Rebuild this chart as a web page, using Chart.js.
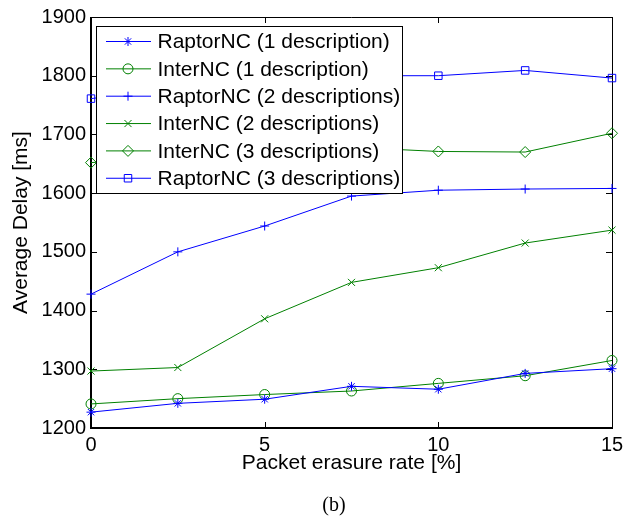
<!DOCTYPE html>
<html>
<head>
<meta charset="utf-8">
<script src="https://cdn.jsdelivr.net/npm/chart.js@4.4.1/dist/chart.umd.min.js"></script>
<style>
  body { margin: 0; background: #fff; }
  #wrap { width: 639px; height: 519px; }
</style>
</head>
<body>
<div id="wrap"><canvas id="myChart" width="639" height="519"></canvas></div>
<script>
// Datos (b)
const erasureRates = [0, 2.5, 5, 7.5, 10, 12.5, 15];
const raptor1 = [1227, 1242, 1249, 1271, 1266, 1293, 1301];
const inter1 = [1241, 1250, 1257, 1263, 1276, 1289, 1315];
const raptor2 = [1428, 1500, 1544, 1595, 1605, 1607, 1608];
const inter2 = [1297, 1303, 1386, 1448, 1473, 1515, 1537];
const inter3 = [1652, 1662, 1670, 1678, 1671, 1670, 1702];
const raptor3 = [1761, 1780, 1792, 1800, 1800, 1809, 1796];

const seriesNames = [
    'RaptorNC (1 description)',
    'InterNC (1 description)',
    'RaptorNC (2 descriptions)',
    'InterNC (2 descriptions)',
    'InterNC (3 descriptions)',
    'RaptorNC (3 descriptions)'
];
const xTicks = [0, 5, 10, 15];
const yTicks = [1200, 1300, 1400, 1500, 1600, 1700, 1800, 1900];

const BLUE = '#0000ff';
const GREEN = '#008000';
const FONT = '"Liberation Sans", Arial, Helvetica, sans-serif';

function points(values) {
    return erasureRates.map((x, i) => ({ x: x, y: values[i] }));
}

function makeSet(label, values, color, style, radius) {
    return {
        label: label,
        data: points(values),
        borderColor: color,
        borderWidth: 1,
        pointStyle: style,
        pointRadius: radius,
        pointBorderWidth: 1,
        pointBorderColor: color,
        pointBackgroundColor: 'rgba(0,0,0,0)',
        tension: 0,
        clip: false
    };
}

// Caja de ejes con marcas hacia dentro (estilo MATLAB)
const axisBox = {
    id: 'axisBox',
    beforeDatasetsDraw(chart) {
        const { ctx, chartArea: a, scales } = chart;
        ctx.save();
        ctx.strokeStyle = '#000';
        ctx.lineWidth = 1;
        ctx.beginPath();
        xTicks.forEach(v => {
            const px = Math.round(scales.x.getPixelForValue(v)) + 0.5;
            ctx.moveTo(px, a.bottom); ctx.lineTo(px, a.bottom - 6);
            ctx.moveTo(px, a.top); ctx.lineTo(px, a.top + 6);
        });
        yTicks.forEach(v => {
            const py = Math.round(scales.y.getPixelForValue(v)) + 0.5;
            ctx.moveTo(a.left, py); ctx.lineTo(a.left + 6, py);
            ctx.moveTo(a.right, py); ctx.lineTo(a.right - 6, py);
        });
        ctx.stroke();
        // borde superior y derecho
        ctx.beginPath();
        ctx.moveTo(a.left, a.top + 0.5); ctx.lineTo(a.right + 0.5, a.top + 0.5);
        ctx.lineTo(a.right + 0.5, a.bottom);
        ctx.stroke();
        // borde izquierdo e inferior un poco más gruesos
        ctx.lineWidth = 2;
        ctx.beginPath();
        ctx.moveTo(a.left, a.top);
        ctx.lineTo(a.left, a.bottom);
        ctx.lineTo(a.right + 1, a.bottom);
        ctx.stroke();
        ctx.restore();
    }
};

// Leyenda dentro del área del gráfico, arriba a la izquierda
const insideLegend = {
    id: 'insideLegend',
    afterDraw(chart) {
        const ctx = chart.ctx;
        ctx.save();
        ctx.fillStyle = '#fff';
        ctx.fillRect(96.5, 26.5, 306, 167);
        ctx.strokeStyle = '#000';
        ctx.lineWidth = 1;
        ctx.strokeRect(96.5, 26.5, 306, 167);
        chart.data.datasets.forEach((ds, i) => {
            const y = 41.5 + i * 27.35;
            ctx.strokeStyle = ds.borderColor;
            ctx.lineWidth = 1;
            ctx.beginPath();
            ctx.moveTo(106, y);
            ctx.lineTo(151, y);
            ctx.stroke();
            ctx.fillStyle = 'rgba(0,0,0,0)';
            Chart.helpers.drawPoint(ctx, {
                pointStyle: ds.pointStyle,
                radius: ds.pointRadius,
                borderWidth: 1,
                rotation: 0
            }, 128, y);
            ctx.fillStyle = '#000';
            ctx.font = '21px ' + FONT;
            ctx.textAlign = 'left';
            ctx.textBaseline = 'middle';
            ctx.fillText(ds.label, 157.5, y + 1);
        });
        // rótulo de la subfigura
        ctx.fillStyle = '#000';
        ctx.font = '20px "Liberation Serif", "Times New Roman", serif';
        ctx.textAlign = 'center';
        ctx.textBaseline = 'alphabetic';
        ctx.fillText('(b)', 334, 511);
        ctx.restore();
    }
};

const ctx = document.getElementById('myChart').getContext('2d');
const myChart = new Chart(ctx, {
    type: 'line',
    data: {
        datasets: [
            makeSet(seriesNames[0], raptor1, BLUE, 'star', 4.5),
            makeSet(seriesNames[1], inter1, GREEN, 'circle', 5),
            makeSet(seriesNames[2], raptor2, BLUE, 'cross', 4.5),
            makeSet(seriesNames[3], inter2, GREEN, 'crossRot', 5),
            makeSet(seriesNames[4], inter3, GREEN, 'rectRot', 5.5),
            makeSet(seriesNames[5], raptor3, BLUE, 'rect', 5.3)
        ]
    },
    options: {
        responsive: false,
        animation: false,
        devicePixelRatio: 1,
        layout: {
            padding: { left: 0, right: 27, top: 17, bottom: 0 }
        },
        plugins: {
            legend: { display: false },
            tooltip: { enabled: false }
        },
        scales: {
            x: {
                type: 'linear',
                min: 0,
                max: 15,
                afterBuildTicks: scale => { scale.ticks = xTicks.map(v => ({ value: v })); },
                afterFit: scale => {
                    scale.height = 91;
                    scale.paddingLeft = 0;
                    scale.paddingRight = 0;
                },
                grid: { display: false, drawTicks: false },
                border: { display: false },
                ticks: {
                    color: '#000',
                    padding: 5,
                    maxRotation: 0,
                    callback: v => String(v),
                    font: { family: FONT, size: 20 }
                },
                title: {
                    display: true,
                    text: 'Packet erasure rate [%]',
                    color: '#000',
                    font: { family: FONT, size: 21 },
                    padding: { top: 0, bottom: 43 }
                }
            },
            y: {
                type: 'linear',
                min: 1200,
                max: 1900,
                afterBuildTicks: scale => { scale.ticks = yTicks.map(v => ({ value: v })); },
                afterFit: scale => {
                    scale.width = 91;
                    scale.paddingTop = 0;
                    scale.paddingBottom = 0;
                },
                grid: { display: false, drawTicks: false },
                border: { display: false },
                ticks: {
                    color: '#000',
                    padding: 5,
                    callback: v => String(v),
                    font: { family: FONT, size: 20 }
                },
                title: {
                    display: true,
                    text: 'Average Delay [ms]',
                    color: '#000',
                    font: { family: FONT, size: 21 },
                    padding: { top: 9, bottom: 0 }
                }
            }
        }
    },
    plugins: [axisBox, insideLegend]
});
</script>
</body>
</html>
